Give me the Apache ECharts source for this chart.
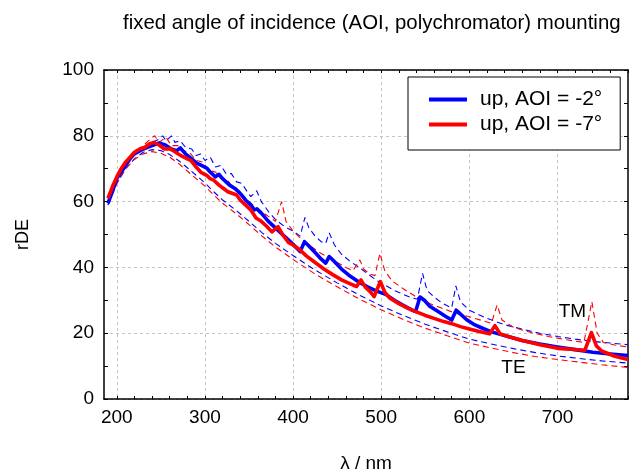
<!DOCTYPE html>
<html>
<head>
<meta charset="utf-8">
<script src="https://cdn.jsdelivr.net/npm/echarts@6/dist/echarts.min.js"></script>
<style>
html,body{margin:0;padding:0;background:#fff;}
#chart{width:631px;height:473px;}
</style>
</head>
<body>
<div id="chart"></div>
<script>
// ---- data (wavelength nm, rDE %) ----
const xLabelTicks = [200, 300, 400, 500, 600, 700];
const xMinorTicks = [200,220,240,260,280,300,320,340,360,380,400,420,440,460,480,500,520,540,560,580,600,620,640,660,680,700,720,740,760,780];
const legendNames = ['up, AOI = -2°', 'up, AOI = -7°'];

const upAoi2 = [[190,59.5],[195,63],[200,67],[205,69],[210,71],[215,73],[220,74.5],[230,76],[240,77],[248,77.8],[255,77.2],[262,76],[268,75.5],[272,76.3],[278,74.5],[285,73],[290,71.8],[296,71],[302,70.2],[306,69],[312,67.5],[316,68.3],[320,67],[328,65],[334,64],[340,62.5],[346,60.5],[352,59],[356,57.5],[359,57.8],[364,56.5],[372,54],[380,52],[390,49.5],[400,47],[408,44.8],[413,47.8],[418,46.5],[425,44.5],[432,42.5],[437,41.3],[441,43.3],[446,42],[455,39.5],[465,37.3],[475,35.5],[485,34],[495,32.8],[505,31.8],[515,30],[525,28.5],[535,27],[539,26.6],[544,31],[549,30],[555,28.2],[565,26.5],[575,24.8],[580,24],[585,27],[590,25.8],[597,24.1],[605,22.7],[615,21.5],[625,20.4],[640,19.3],[660,17.8],[680,16.7],[700,15.8],[720,15],[740,14.2],[760,13.7],[780,13.2]];

const upAoi7 = [[190,61],[195,64.5],[200,67.5],[205,70],[210,72],[215,73.5],[220,75],[226,76],[232,76.5],[237,77.5],[242,78],[248,77.2],[254,76],[260,76.1],[264,75.5],[268,74.8],[274,73.8],[280,73],[284,72.5],[290,70.5],[296,68.8],[302,68],[306,67],[310,66.5],[316,65],[320,64.2],[326,63],[330,62.6],[336,62],[340,60.5],[346,59],[352,57.5],[358,55],[364,54],[370,52.5],[376,50.8],[383,52.4],[388,50],[395,47.5],[400,46.8],[408,45.3],[415,43.5],[425,41.5],[435,39.5],[445,37.8],[455,36.2],[465,35],[472,34.2],[477,36.2],[482,34],[488,32.5],[492,31.1],[499,35.7],[504,32.5],[510,30.6],[520,29],[530,27.6],[540,26.5],[550,25.4],[560,24.5],[570,23.6],[580,22.9],[590,22],[600,21.3],[610,20.6],[623,19.8],[629,22.3],[635,19.8],[645,18.9],[660,17.8],[680,16.5],[700,15.4],[715,15.1],[731,14.8],[738.5,20.2],[744,16.2],[750,14.6],[765,13],[780,12]];

const tmAoi2 = [[190,59],[200,66.5],[210,71],[220,74.5],[230,76.5],[240,78],[248,79],[252,80],[256,78.5],[262,80],[266,78],[272,78.5],[278,76.5],[285,76],[290,74],[295,74.5],[300,72.5],[306,73.5],[312,70.5],[318,71],[324,68.5],[330,68.5],[336,66],[342,65.5],[348,63],[352,61.5],[358.7,63.3],[364,60],[372,57],[380,54.5],[390,52.5],[400,51],[408,49.5],[413.5,55.2],[418,52],[425,49.5],[432,47.8],[437,47.3],[441,50.5],[447,46.8],[455,44],[465,41.8],[475,40],[485,38],[495,36],[505,34.5],[515,33],[525,31.8],[535,30.7],[541,30.3],[546.9,38.2],[552,33],[560,31],[570,29],[580,27.7],[584.7,34.4],[590,29.5],[600,27],[620,24.5],[640,22.6],[660,21.2],[680,20],[700,19],[720,18.2],[740,17.5],[760,17],[780,16.5]];

const tmAoi7 = [[190,60],[200,67],[210,72],[220,75],[230,77],[238,79],[243,80],[248,78],[256,79.5],[262,77],[270,77],[276,75.5],[284,74.5],[290,72.5],[298,72],[304,69.5],[312,69],[318,67],[326,66.5],[332,64],[340,63],[348,60.5],[356,58.5],[364,57],[372,55.5],[380,54],[387,60],[392,54],[400,51],[410,48.5],[420,46.5],[430,44.5],[440,43],[450,41.5],[460,40],[468,39],[475.8,42.3],[480,39.5],[487,38],[493,37.5],[498.5,44.3],[504,39],[512,36],[525,33.5],[540,31],[555,29],[570,27.5],[585,26],[600,25],[615,23.8],[625,23],[631.5,28.6],[637,24],[650,21.8],[670,20.2],[690,19],[710,18],[730,17.2],[739,29.6],[745,20],[752,17.2],[765,16.4],[780,15.8]];

const teAoi2 = [[190,59],[200,65.5],[210,70],[220,73],[230,75],[240,75.8],[250,75.5],[260,74.3],[270,72.5],[280,70.3],[290,68],[300,65.7],[310,63],[320,60.5],[336,57.2],[350,54],[365,50.5],[380,47.3],[400,43.6],[425,39.2],[450,35.3],[475,31.6],[500,28.3],[525,25.4],[550,22.7],[575,20.4],[600,18.2],[625,16.7],[650,15.3],[675,14.1],[700,13.1],[725,12.3],[750,11.6],[780,10.9]];

const teAoi7 = [[190,59.5],[200,65.5],[210,70],[220,72.8],[230,74.5],[240,75.2],[250,74.7],[260,73.5],[270,71.6],[280,69.3],[290,67],[300,64.7],[310,62],[320,59.5],[336,56.2],[350,53],[365,49.5],[380,46.2],[400,42.4],[425,38],[450,34.1],[475,30.4],[500,27.1],[525,24.2],[550,21.5],[575,19.2],[600,17],[625,15.5],[650,14.1],[675,12.9],[700,12],[725,11.2],[750,10.4],[780,9.6]];

const tmLabelAt = [717, 26.5];
const teLabelAt = [650, 9.5];

const FONT = 'Liberation Sans, Arial, sans-serif';
const BLUE = '#0000ff', RED = '#ff0000';
const gridLine = {show:true, lineStyle:{color:'#c4c4c4', type:[3,3], width:1}};
const XMIN = 185.5, XMAX = 780;

function solid(name, data, color){
  return {name, type:'line', data, showSymbol:false, symbol:'none', smooth:false,
    lineStyle:{color, width:3.6, join:'round'}, itemStyle:{color}, z:5, silent:true};
}
function dashed(name, data, color){
  return {name, type:'line', data, showSymbol:false, symbol:'none',
    lineStyle:{color, width:1.1, type:[6,4]}, itemStyle:{color}, z:3, silent:true};
}

const chart = echarts.init(document.getElementById('chart'), null, {renderer:'canvas'});
const tmSeries = dashed('TM, AOI = -2°', tmAoi2, BLUE);
tmSeries.markPoint = {symbol:'circle', symbolSize:0, silent:true,
  data:[{coord:tmLabelAt, label:{show:true, formatter:'TM', color:'#000', fontSize:19, fontFamily:FONT, position:'inside'}},
        {coord:teLabelAt, label:{show:true, formatter:'TE', color:'#000', fontSize:19, fontFamily:FONT, position:'inside'}}]};

chart.setOption({
  animation:false,
  backgroundColor:'#fff',
  title:{text:'fixed angle of incidence (AOI, polychromator) mounting', left:118, top:8,
    textStyle:{fontFamily:FONT, fontSize:20.4, fontWeight:'normal', color:'#000'}},
  grid:{left:104, right:3, top:70, bottom:74, containLabel:false, outerBoundsMode:'none'},
  legend:{data:legendNames, orient:'vertical', left:408, top:77, padding:[12,18,15,21],
    itemGap:4, itemWidth:38, itemHeight:4, icon:'rect', borderColor:'#000', borderWidth:1,
    backgroundColor:'#fff', textStyle:{fontFamily:FONT, fontSize:21, color:'#000', padding:[0,0,0,8]}, selectedMode:false, z:10},
  xAxis:[
    {type:'value', min:XMIN, max:XMAX, position:'bottom',
      name:'λ / nm', nameLocation:'middle', nameGap:55, nameTextStyle:{fontFamily:FONT, fontSize:19, color:'#000'},
      axisLine:{show:true, onZero:false, lineStyle:{color:'#000', width:1.5}},
      axisTick:{show:true, inside:true, length:3, customValues:xMinorTicks, lineStyle:{color:'#000'}},
      axisLabel:{show:true, customValues:xLabelTicks, fontFamily:FONT, fontSize:19, color:'#000', margin:9},
      splitLine:{show:false}},
    {type:'value', min:XMIN, max:XMAX, position:'top',
      axisLine:{show:true, onZero:false, lineStyle:{color:'#000', width:1.5}},
      axisTick:{show:true, inside:true, length:3, customValues:xMinorTicks, lineStyle:{color:'#000'}},
      axisLabel:{show:false}, splitLine:{show:false}},
    {type:'value', min:XMIN, max:XMAX, position:'bottom',
      axisLine:{show:false}, axisTick:{show:false, customValues:xLabelTicks},
      axisLabel:{show:false}, splitLine:gridLine}
  ],
  yAxis:[
    {type:'value', min:0, max:100, interval:20, position:'left',
      name:'rDE', nameLocation:'middle', nameGap:72, nameTextStyle:{fontFamily:FONT, fontSize:18, color:'#000'},
      axisLine:{show:true, onZero:false, lineStyle:{color:'#000', width:1.5}},
      axisTick:{show:true, inside:true, length:4, lineStyle:{color:'#000'}},
      minorTick:{show:true, splitNumber:2, length:4, lineStyle:{color:'#000'}},
      axisLabel:{fontFamily:FONT, fontSize:19, color:'#000', margin:10},
      splitLine:gridLine},
    {type:'value', min:0, max:100, interval:20, position:'right',
      axisLine:{show:true, onZero:false, lineStyle:{color:'#000', width:1.5}},
      axisTick:{show:true, inside:true, length:4, lineStyle:{color:'#000'}},
      minorTick:{show:true, splitNumber:2, length:4, lineStyle:{color:'#000'}},
      axisLabel:{show:false}, splitLine:{show:false}}
  ],
  series:[
    tmSeries,
    dashed('TM, AOI = -7°', tmAoi7, RED),
    dashed('TE, AOI = -2°', teAoi2, BLUE),
    dashed('TE, AOI = -7°', teAoi7, RED),
    solid(legendNames[0], upAoi2, BLUE),
    solid(legendNames[1], upAoi7, RED)
  ]
});
</script>
</body>
</html>
